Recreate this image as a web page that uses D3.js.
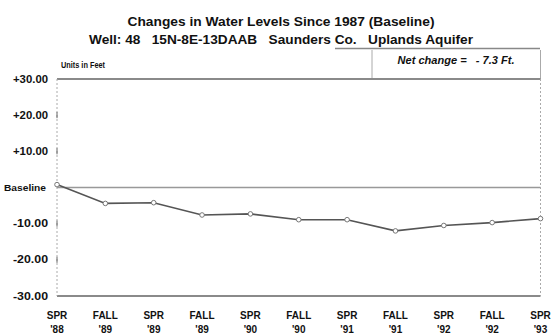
<!DOCTYPE html>
<html><head><meta charset="utf-8">
<script src="https://cdn.jsdelivr.net/npm/d3@7"></script>
<style>body{margin:0;background:#fff}svg{display:block}text{font-family:"Liberation Sans",Arial,sans-serif;font-weight:bold;fill:#111}</style>
</head><body>
<script>
const seasons = ["SPR","FALL","SPR","FALL","SPR","FALL","SPR","FALL","SPR","FALL","SPR"];
const years = ["'88","'89","'89","'89","'90","'90","'91","'91","'92","'92","'93"];
const values = [0.8,-4.4,-4.2,-7.6,-7.3,-8.9,-8.9,-12.0,-10.5,-9.7,-8.6];
const yTicks = [30,20,10,0,-10,-20,-30];
const yTickLabels = ["+30.00","+20.00","+10.00","Baseline","-10.00","-20.00","-30.00"];
const title1 = "Changes in Water Levels Since 1987 (Baseline)";
const title2 = "Well: 48   15N-8E-13DAAB   Saunders Co.   Uplands Aquifer";
const netChange = "Net change =   - 7.3 Ft.";
const unitsLabel = "Units in Feet";

const W=553,H=334;
const svg=d3.select("body").append("svg").attr("width",W).attr("height",H);
const L=57,R=540.5,T=79,B=296;
const x=d3.scalePoint().domain(d3.range(values.length)).range([L,R]);
const y=d3.scaleLinear().domain([-30,30]).range([B,T]);

svg.append("text").attr("x",281).attr("y",26).attr("text-anchor","middle").attr("font-size",13.5)
  .attr("textLength",307).attr("lengthAdjust","spacingAndGlyphs").text(title1);
svg.append("text").attr("x",281).attr("y",44).attr("text-anchor","middle").attr("font-size",13.5)
  .attr("textLength",384).attr("lengthAdjust","spacingAndGlyphs").style("white-space","pre").text(title2);
svg.append("text").attr("x",61).attr("y",68).attr("font-size",8.5).attr("textLength",44).attr("lengthAdjust","spacingAndGlyphs").text(unitsLabel);

// legend box
svg.append("line").attr("x1",335).attr("x2",540).attr("y1",48.5).attr("y2",48.5).attr("stroke","#888").attr("stroke-width",1.5);
svg.append("line").attr("x1",372).attr("x2",372).attr("y1",50).attr("y2",T).attr("stroke","#aaa").attr("stroke-width",1);
svg.append("line").attr("x1",540.5).attr("x2",540.5).attr("y1",50).attr("y2",T).attr("stroke","#aaa").attr("stroke-width",1);
svg.append("text").attr("x",456).attr("y",64).attr("text-anchor","middle").attr("font-size",10).style("font-style","italic")
  .attr("textLength",117).attr("lengthAdjust","spacingAndGlyphs").style("white-space","pre").text(netChange);

// frame
svg.append("line").attr("x1",L).attr("x2",R).attr("y1",T).attr("y2",T).attr("stroke","#8a8a8a").attr("stroke-width",2);
svg.append("line").attr("x1",L).attr("x2",R).attr("y1",B).attr("y2",B).attr("stroke","#8a8a8a").attr("stroke-width",2);
svg.append("line").attr("x1",L).attr("x2",R).attr("y1",y(0)).attr("y2",y(0)).attr("stroke","#999").attr("stroke-width",1.3);
svg.append("line").attr("x1",L).attr("x2",L).attr("y1",T).attr("y2",B).attr("stroke","#aaa").attr("stroke-dasharray","2,2");
svg.append("line").attr("x1",R).attr("x2",R).attr("y1",T).attr("y2",B).attr("stroke","#aaa").attr("stroke-dasharray","2,2");

// y axis labels & ticks
const yAxis=svg.append("g");
yTicks.forEach((t,i)=>{
  const isBase = t===0;
  yAxis.append("text").attr("x",isBase?46:48).attr("y",y(t)+3.5).attr("text-anchor","end").attr("font-size",isBase?8.5:10)
    .attr("textLength",isBase?42:35).attr("lengthAdjust","spacingAndGlyphs").text(yTickLabels[i]);
  if(t!==30 && t!==-30 && !isBase) yAxis.append("line").attr("x1",L).attr("x2",L).attr("y1",y(t)-3).attr("y2",y(t)+3).attr("stroke","#666");
});

// x labels
values.forEach((v,i)=>{
  svg.append("text").attr("x",x(i)).attr("y",319).attr("text-anchor","middle").attr("font-size",10).text(seasons[i]);
  svg.append("text").attr("x",x(i)).attr("y",333).attr("text-anchor","middle").attr("font-size",10).text(years[i]);
});

// series
const line=d3.line().x((d,i)=>x(i)).y(d=>y(d));
svg.append("path").datum(values).attr("d",line).attr("fill","none").attr("stroke","#555").attr("stroke-width",1.6);
svg.selectAll("circle.pt").data(values).join("circle").attr("class","pt")
  .attr("cx",(d,i)=>x(i)).attr("cy",d=>y(d)).attr("r",2.3).attr("fill","#fff").attr("stroke","#777").attr("stroke-width",1);
</script>
</body></html>
